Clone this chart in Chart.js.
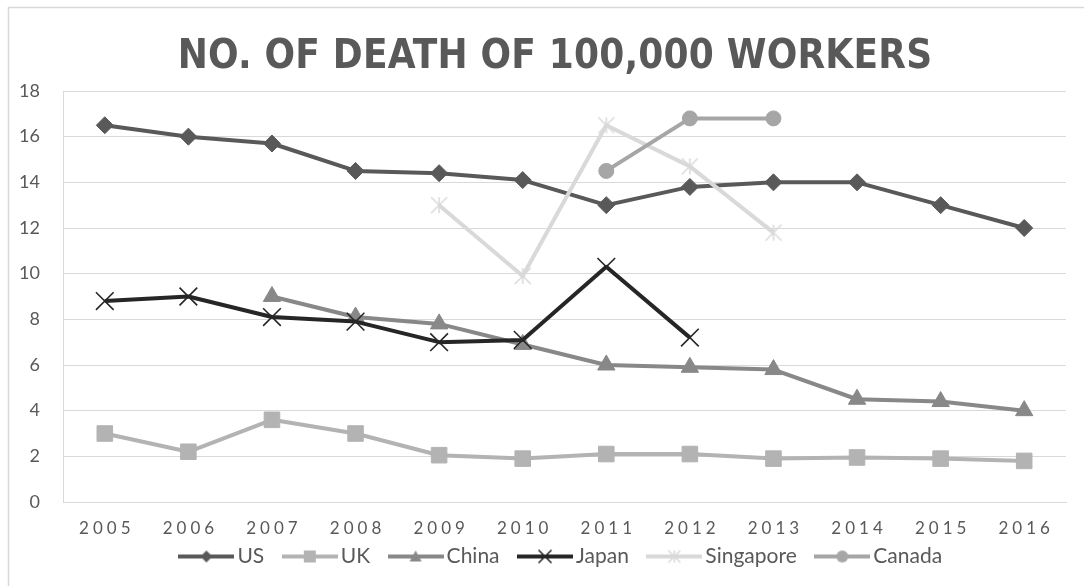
<!DOCTYPE html>
<html>
<head>
<meta charset="utf-8">
<script src="https://cdn.jsdelivr.net/npm/chart.js@4.4.1/dist/chart.umd.min.js"></script>
<style>
  html, body { margin: 0; padding: 0; background: #ffffff; }
  canvas { display: block; }
</style>
</head>
<body>
<canvas id="chart" width="1084" height="586"></canvas>
<script>
// Fatal injuries per 100,000 workers, by country and year
const years = ['2005', '2006', '2007', '2008', '2009', '2010', '2011', '2012', '2013', '2014', '2015', '2016'];
const usRate        = [16.5, 16.0, 15.7, 14.5, 14.4, 14.1, 13.0, 13.8, 14.0, 14.0, 13.0, 12.0];
const ukRate        = [3.0, 2.2, 3.6, 3.0, 2.05, 1.9, 2.1, 2.1, 1.9, 1.95, 1.9, 1.8];
const chinaRate     = [null, null, 9.0, 8.1, 7.8, 6.9, 6.0, 5.9, 5.8, 4.5, 4.4, 4.0];
const japanRate     = [8.8, 9.0, 8.1, 7.9, 7.0, 7.1, 10.3, 7.2, null, null, null, null];
const singaporeRate = [null, null, null, null, 13.0, 9.9, 16.5, 14.7, 11.8, null, null, null];
const canadaRate    = [null, null, null, null, null, null, 14.5, 16.8, 16.8, null, null, null];
const seriesNames   = ['US', 'UK', 'China', 'Japan', 'Singapore', 'Canada'];
const yMin = 0, yMax = 18, yStep = 2;
const chartTitle = 'NO. OF DEATH OF 100,000 WORKERS';

const TEXT = '#595959';
const GRID = '#d9d9d9';
const colors = ['#595959', '#b3b3b3', '#888888', '#262626', '#d9d9d9', '#a6a6a6'];
const markers = ['diamond', 'square', 'triangle', 'cross', 'star', 'circle'];
const FONT = 'Lato, "Open Sans", sans-serif';

// Draws a marker (optionally with a line through it) into a small canvas
function markerCanvas(kind, color, size, lineLength) {
  const w = lineLength ? lineLength : size + 4;
  const h = lineLength ? 20 : size + 4;
  const c = document.createElement('canvas');
  c.width = w; c.height = h;
  const g = c.getContext('2d');
  const cx = w / 2, cy = h / 2, r = size / 2;
  if (lineLength) {
    g.strokeStyle = color; g.lineWidth = 4;
    g.beginPath(); g.moveTo(0, cy); g.lineTo(w, cy); g.stroke();
  }
  g.fillStyle = color; g.strokeStyle = color;
  g.beginPath();
  switch (kind) {
    case 'diamond':
      g.moveTo(cx, cy - r); g.lineTo(cx + r, cy); g.lineTo(cx, cy + r); g.lineTo(cx - r, cy);
      g.closePath(); g.fill(); break;
    case 'square':
      g.fillRect(cx - r, cy - r, 2 * r, 2 * r); break;
    case 'triangle':
      g.moveTo(cx, cy - r); g.lineTo(cx + r, cy + r * 0.85); g.lineTo(cx - r, cy + r * 0.85);
      g.closePath(); g.fill(); break;
    case 'cross':
      g.lineWidth = 1.5;
      g.moveTo(cx - r, cy - r); g.lineTo(cx + r, cy + r);
      g.moveTo(cx + r, cy - r); g.lineTo(cx - r, cy + r);
      g.stroke(); break;
    case 'star':
      g.lineWidth = 1.5;
      g.moveTo(cx - r, cy - r); g.lineTo(cx + r, cy + r);
      g.moveTo(cx + r, cy - r); g.lineTo(cx - r, cy + r);
      g.moveTo(cx, cy - r); g.lineTo(cx, cy + r);
      g.stroke(); break;
    case 'circle':
      g.arc(cx, cy, r, 0, Math.PI * 2); g.fill(); break;
  }
  return c;
}

const legendSymbols = markers.map((m, i) => markerCanvas(m, colors[i], m === 'cross' ? 13 : 12, 56));
const starPoint = markerCanvas('star', colors[4], 16, 0);

function lineSeries(label, data, color, extra) {
  return Object.assign({
    label, data,
    borderColor: color,
    backgroundColor: color,
    pointBackgroundColor: color,
    pointBorderColor: color,
    borderWidth: 4,
    borderJoinStyle: 'round',
    pointBorderWidth: 1,
    tension: 0,
    spanGaps: false
  }, extra);
}

const datasets = [
  lineSeries(seriesNames[0], usRate,        colors[0], { pointStyle: 'rectRot',  pointRadius: 8.5, order: 6 }),
  lineSeries(seriesNames[1], ukRate,        colors[1], { pointStyle: 'rect',     pointRadius: 11, order: 5 }),
  lineSeries(seriesNames[2], chinaRate,     colors[2], { pointStyle: 'triangle', pointRadius: 10, order: 4 }),
  lineSeries(seriesNames[3], japanRate,     colors[3], { pointStyle: 'crossRot', pointRadius: 12.5, pointBorderWidth: 1.6, order: 3 }),
  lineSeries(seriesNames[4], singaporeRate, colors[4], { pointStyle: starPoint,  pointRadius: 8, order: 2 }),
  lineSeries(seriesNames[5], canadaRate,    colors[5], { pointStyle: 'circle',   pointRadius: 7.5, order: 1 })
];

// Background, outer frame and the title
const frame = {
  id: 'frame',
  beforeDraw(chart) {
    const ctx = chart.ctx;
    ctx.save();
    ctx.fillStyle = '#ffffff';
    ctx.fillRect(0, 0, chart.width, chart.height);
    ctx.strokeStyle = GRID;
    ctx.lineWidth = 1.5;
    ctx.strokeRect(8.5, 7.5, chart.width + 20, chart.height + 20);
    ctx.restore();
  },
  afterDraw(chart) {
    const ctx = chart.ctx;
    ctx.save();
    ctx.font = 'bold 40px "Liberation Sans Narrow", "DejaVu Sans Condensed", sans-serif';
    ctx.fillStyle = TEXT;
    ctx.letterSpacing = '0.2px';
    ctx.textAlign = 'center';
    ctx.textBaseline = 'middle';
    ctx.fillText(chartTitle, 555, 58);
    ctx.restore();
  }
};

// Widely tracked year labels on the category axis; legend nudged to the right
const axisStyling = {
  id: 'axisStyling',
  afterLayout(chart) {
    const s = chart.scales.x;
    if (s && !s._tracked) {
      const orig = s.drawLabels;
      s._computeLabelArea = function () { return undefined; };
      s.drawLabels = function (area) {
        const ctx = this.ctx;
        ctx.save();
        ctx.letterSpacing = '4px';
        ctx.translate(2, 0);
        orig.call(this, area);
        ctx.restore();
      };
      s._tracked = true;
    }
    if (chart.legend) {
      chart.legend.left += 26;
      chart.legend.right += 26;
    }
  }
};

new Chart(document.getElementById('chart'), {
  type: 'line',
  data: { labels: years, datasets },
  options: {
    responsive: false,
    animation: false,
    devicePixelRatio: 1,
    layout: { padding: { left: 10, right: 18, top: 91, bottom: 9 } },
    plugins: {
      title: { display: false },
      tooltip: { enabled: false },
      legend: {
        display: true,
        position: 'bottom',
        labels: {
          usePointStyle: true,
          pointStyleWidth: 41,
          padding: 25,
          color: TEXT,
          font: { family: FONT, size: 21 },
          generateLabels(chart) {
            return chart.data.datasets.map((ds, i) => ({
              text: ds.label,
              pointStyle: legendSymbols[i],
              fillStyle: colors[i],
              strokeStyle: colors[i],
              lineWidth: 0,
              fontColor: TEXT,
              hidden: false,
              datasetIndex: i
            }));
          }
        }
      }
    },
    scales: {
      x: {
        offset: true,
        grid: { display: false, drawTicks: false },
        border: { display: true, color: GRID, width: 1 },
        ticks: {
          color: TEXT,
          font: { family: FONT, size: 17 },
          padding: 16,
          autoSkip: false,
          maxRotation: 0
        },
        afterFit(scale) { scale.height = 19; }
      },
      y: {
        min: yMin,
        max: yMax,
        grid: { color: GRID, lineWidth: 1, drawTicks: false },
        border: { display: true, color: GRID, width: 1 },
        ticks: {
          stepSize: yStep,
          color: TEXT,
          font: { family: FONT, size: 18 },
          padding: 23
        },
        afterFit(scale) { scale.width = 53; }
      }
    }
  },
  plugins: [frame, axisStyling]
});
</script>
</body>
</html>
